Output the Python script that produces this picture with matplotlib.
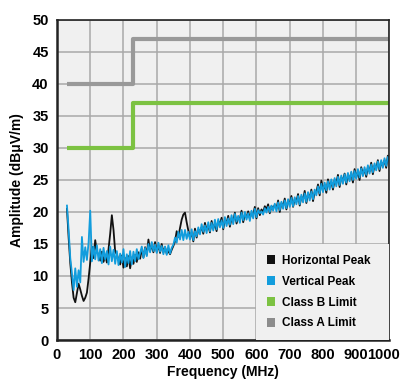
import matplotlib
matplotlib.use("Agg")
import matplotlib.pyplot as plt
import matplotlib.transforms as mtransforms
from matplotlib.patches import Patch

plt.rcParams['font.family'] = ['Liberation Sans', 'DejaVu Sans']
plt.rcParams['font.weight'] = 'bold'

# frequency axis for the scans (MHz)
freq = list(range(30, 1001, 5))

vertical = [
    21.0, 17.2, 12.8, 10.4, 7.8, 11.2, 8.3, 10.9, 9.0, 16.1,
    12.2, 14.5, 12.5, 15.2, 20.2, 12.3, 14.6, 12.6, 14.8, 12.4,
    14.2, 12.0, 14.4, 12.6, 13.9, 11.8, 14.6, 12.3, 14.1, 11.9,
    13.9, 11.7, 13.5, 12.1, 14.2, 11.4, 13.4, 12.0, 13.9, 11.8,
    13.8, 12.3, 14.2, 12.6, 13.6, 14.6, 12.8, 14.4, 13.1, 15.0,
    13.7, 15.3, 13.9, 14.9, 13.6, 15.2, 13.8, 14.7, 13.4, 14.6,
    13.3, 14.8, 13.5, 14.4, 14.9, 16.0, 15.2, 16.9, 15.7, 17.2,
    15.6, 17.2, 15.8, 16.9, 15.7, 17.3, 15.6, 17.0, 16.2, 17.6,
    16.5, 18.1, 16.9, 17.9, 16.7, 18.4, 17.0, 18.3, 17.1, 18.8,
    17.3, 18.9, 17.6, 18.7, 17.5, 19.2, 17.8, 19.0, 18.0, 19.5,
    18.1, 19.7, 18.5, 19.4, 18.3, 19.9, 18.7, 20.0, 18.8, 19.8,
    18.6, 20.2, 19.0, 20.5, 19.2, 20.3, 19.8, 20.1, 19.6, 20.6,
    19.9, 20.8, 20.0, 21.0, 20.2, 21.3, 20.1, 21.5, 20.3, 21.6,
    20.5, 21.8, 20.6, 22.0, 20.8, 22.2, 20.9, 22.3, 21.2, 22.5,
    21.2, 22.7, 21.5, 22.9, 21.6, 23.1, 21.8, 23.2, 22.0, 23.5,
    22.6, 24.0, 22.9, 24.4, 23.1, 24.6, 23.4, 24.8, 23.5, 25.1,
    23.8, 25.3, 24.0, 25.5, 24.2, 25.7, 24.4, 25.9, 24.6, 26.1,
    24.8, 26.3, 25.0, 26.4, 25.2, 26.7, 25.4, 26.8, 25.6, 27.0,
    25.8, 27.3, 26.0, 27.4, 26.2, 27.6, 26.5, 27.9, 26.7, 28.1,
    26.9, 28.4, 27.2, 28.6, 27.8,
]

horizontal = [
    20.5, 16.0, 12.0, 9.0, 6.6, 5.9, 7.4, 8.8, 7.9, 6.9,
    6.1, 6.6, 7.4, 9.6, 12.1, 14.6, 12.8, 15.6, 13.7, 13.4,
    12.4, 13.8, 12.2, 13.3, 12.1, 14.2, 16.6, 19.5, 17.2, 13.8,
    13.4, 12.5, 11.8, 13.2, 11.3, 12.8, 11.5, 13.1, 11.2, 12.9,
    11.9, 13.3, 12.2, 13.7, 12.7, 14.2, 12.9, 14.5, 13.3, 15.7,
    13.9, 14.9, 13.7, 15.3, 13.8, 14.8, 13.6, 15.0, 13.7, 14.5,
    13.5, 13.9, 13.4, 14.1, 14.7, 15.4, 17.0, 16.1, 17.5, 18.8,
    19.6, 19.9, 18.4, 17.1, 16.0, 16.8, 15.4, 17.4, 16.0, 17.2,
    17.0, 17.6, 16.6, 18.3, 17.2, 17.9, 16.8, 18.6, 17.4, 18.2,
    17.0, 18.6, 18.1, 19.1, 17.3, 18.8, 18.3, 19.4, 17.7, 19.0,
    18.6, 19.9, 18.2, 19.1, 18.9, 20.2, 18.4, 19.5, 19.2, 20.1,
    19.0, 19.8, 19.6, 20.8, 19.0, 20.6, 19.5, 20.4, 20.0, 20.9,
    20.4, 21.2, 19.8, 20.9, 20.6, 21.1, 20.5, 21.8, 20.0, 21.4,
    20.9, 22.1, 20.4, 21.7, 21.3, 22.5, 20.8, 22.0, 21.6, 22.8,
    21.0, 22.4, 21.9, 23.3, 21.4, 22.8, 22.2, 23.5, 21.7, 23.1,
    23.1, 24.3, 22.6, 24.9, 23.5, 24.2, 23.0, 25.1, 23.9, 24.7,
    23.5, 25.0, 24.5, 25.8, 23.9, 25.4, 24.9, 26.0, 24.3, 25.8,
    25.1, 26.1, 24.6, 26.7, 25.4, 26.3, 25.0, 27.0, 25.9, 26.6,
    25.5, 27.0, 26.3, 27.7, 25.9, 27.3, 26.8, 28.1, 26.4, 27.8,
    27.2, 28.1, 26.9, 28.8, 28.0,
]

limit_freq = [30, 230, 230, 1000]
class_b = [30, 30, 37, 37]
class_a = [40, 40, 47, 47]

labels = ["Horizontal Peak", "Vertical Peak", "Class B Limit", "Class A Limit"]
colors = ["#111111", "#129ddd", "#7cc242", "#8c8c8c"]

fig = plt.figure(figsize=(4.03, 3.81), dpi=100)
ax = fig.add_axes([0.1414, 0.1076, 0.8251, 0.84])
ax.set_facecolor("#f0f0f0")

ax.plot(limit_freq, class_a, color="#999999", lw=3.0, solid_capstyle="butt")
ax.plot(limit_freq, class_b, color=colors[2], lw=3.0, solid_capstyle="butt")
ax.plot(freq, horizontal, color=colors[0], lw=1.3)
ax.plot(freq, vertical, color=colors[1], lw=1.3)

ax.set_xlim(0, 1000)
ax.set_ylim(0, 50)
ax.set_xticks(range(0, 1001, 100))
ax.set_yticks(range(0, 51, 5))
ax.set_axisbelow(True)
ax.grid(True, color="#a9a9a9", lw=1.1)
ax.tick_params(length=0, labelsize=10.5, pad=6)
for lab in ax.get_xticklabels() + ax.get_yticklabels():
    lab.set_fontweight("bold")
# nudge the last x label so it stays inside the figure
last = ax.get_xticklabels()[-1]
last.set_transform(last.get_transform() + mtransforms.ScaledTranslation(-4 / 72, 0, fig.dpi_scale_trans))
for s in ax.spines.values():
    s.set_color("#222222")
    s.set_linewidth(1.2)
ax.spines["left"].set_linewidth(1.8)
ax.spines["bottom"].set_linewidth(1.8)

ax.set_xlabel("Frequency (MHz)", fontsize=10, fontweight="bold", labelpad=2)
ax.set_ylabel("Amplitude (dB\u03bcV/m)", fontsize=10, fontweight="bold", labelpad=6)

handles = [Patch(facecolor=c, edgecolor="none") for c in colors]
leg = ax.legend(handles, labels, loc="lower left", bbox_to_anchor=(0.6, 0, 0.4, 0.3),
                mode="expand", borderaxespad=0, frameon=True, fancybox=False,
                prop={"weight": "bold", "size": 8.5},
                handlelength=0.7, handleheight=0.8,
                handletextpad=0.6, labelspacing=0.75, borderpad=0.9)
leg.get_frame().set_facecolor("#f0f0f0")
leg.get_frame().set_edgecolor("none")
leg.get_frame().set_alpha(1)

fig.savefig("out.png", dpi=100)
